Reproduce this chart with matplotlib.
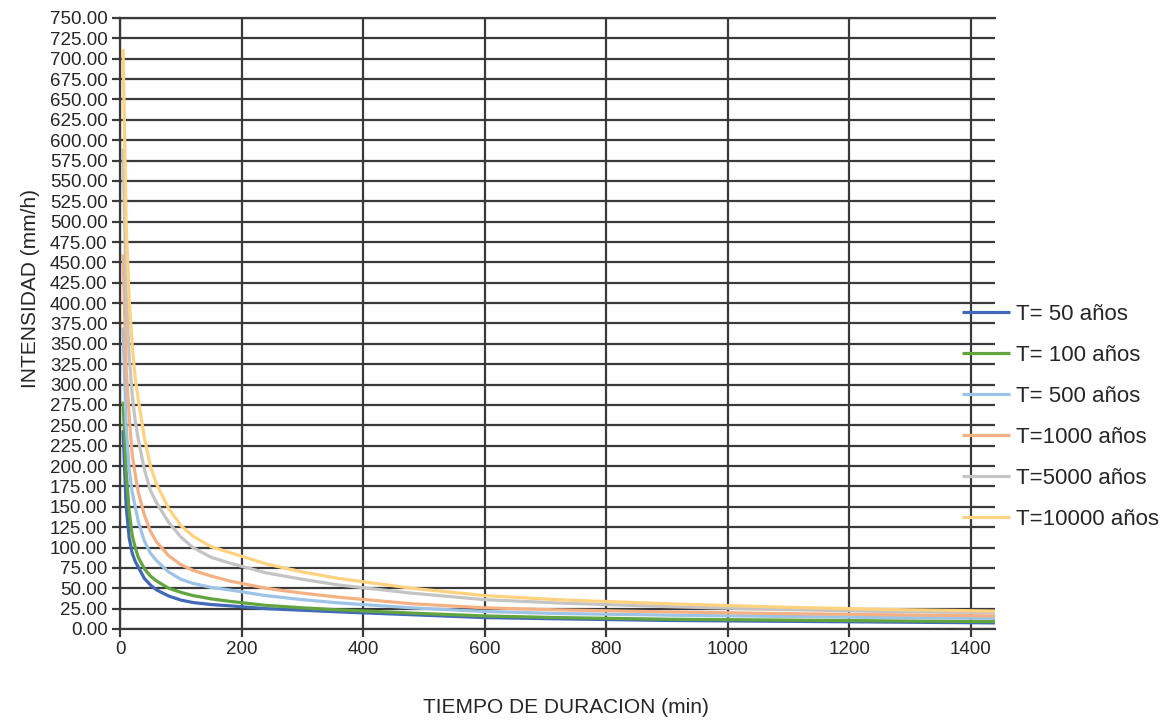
import matplotlib.pyplot as plt
import numpy as np

# Datos (duracion en min, intensidad en mm/h)
duracion = [5, 10, 15, 20, 25, 30, 40, 50, 60, 80, 100, 120, 150, 180,
            240, 300, 360, 480, 600, 720, 900, 1080, 1260, 1440]

i_50 = [244, 152, 112, 93, 83, 76, 62, 54, 48, 40.5, 35.5, 32.5, 30, 28.5,
        25, 23, 21, 17.5, 14, 12.5, 10.5, 9.5, 8.5, 7.5]
i_100 = [279, 195, 145, 115, 100, 88, 74, 65, 59, 50, 45, 41, 37, 34,
         29, 26, 23.5, 19.5, 16, 14, 12, 11, 10, 9]
i_500 = [370, 250, 196, 168, 150, 132, 108, 93, 84, 70, 61, 56, 51, 48,
         41, 36, 32, 26, 21.5, 19, 17, 15.5, 14, 13]
i_1000 = [460, 322, 262, 214, 190, 168, 140, 120, 107, 90, 79, 72, 65, 59,
          50, 44, 39, 31, 26, 23.5, 21, 19, 17.5, 16]
i_5000 = [590, 415, 335, 288, 255, 233, 196, 170, 155, 131, 113, 100, 88, 81,
          69, 61, 54, 44, 36, 32, 27.5, 24, 21.5, 20]
i_10000 = [712, 500, 405, 348, 308, 282, 235, 200, 178, 148, 127, 114, 101, 94,
           80, 70, 62, 50, 41, 36, 31, 27, 24, 22]

series = [i_50, i_100, i_500, i_1000, i_5000, i_10000]
etiquetas = ['T= 50 años', 'T= 100 años', 'T= 500 años', 'T=1000 años',
             'T=5000 años', 'T=10000 años']
colores = ['#4169B8', '#62A43E', '#9DC3E6', '#F4B183', '#C4C4C4', '#FFD280']

plt.rcParams['font.family'] = ['Liberation Sans', 'DejaVu Sans']
texto = '#262626'
rejilla = '#3a3a3a'

fig = plt.figure(figsize=(11.71, 7.2), dpi=100)
ax = fig.add_axes([0.1025, 0.1264, 0.7472, 0.8486])

for valores, etiqueta, color in zip(series, etiquetas, colores):
    ax.plot(duracion, valores, color=color, linewidth=2.3, label=etiqueta,
            solid_capstyle='butt', solid_joinstyle='round')

ax.set_xlim(0, 1440)
ax.set_ylim(0, 750)
ax.set_xticks(np.arange(0, 1401, 200))
ax.set_yticks(np.arange(0, 751, 25))
ax.yaxis.set_major_formatter(plt.FuncFormatter(lambda v, p: f'{v:.2f}'))

ax.grid(True, color=rejilla, linewidth=1.6)
ax.set_axisbelow(True)
for lado in ['left', 'bottom', 'top']:
    ax.spines[lado].set_color(rejilla)
    ax.spines[lado].set_linewidth(1.6)
ax.spines['right'].set_visible(False)
ax.tick_params(axis='both', direction='out', length=6, width=1.6,
               color=rejilla, labelsize=13.5, labelcolor=texto, pad=3)

ax.set_xlabel('TIEMPO DE DURACION (min)', fontsize=15, color=texto)
ax.set_ylabel('INTENSIDAD (mm/h)', fontsize=15, color=texto)
ax.xaxis.set_label_coords(0.51, -0.113)
ax.yaxis.set_label_coords(-0.091, 0.558)

handles, labels = ax.get_legend_handles_labels()
fig.legend(handles, labels, loc='center left', bbox_to_anchor=(0.8215, 0.421),
           frameon=False, fontsize=16, handlelength=2.15, handletextpad=0.28,
           labelspacing=0.9, borderpad=0, borderaxespad=0, labelcolor=texto)

fig.savefig('out.png', dpi=100)
